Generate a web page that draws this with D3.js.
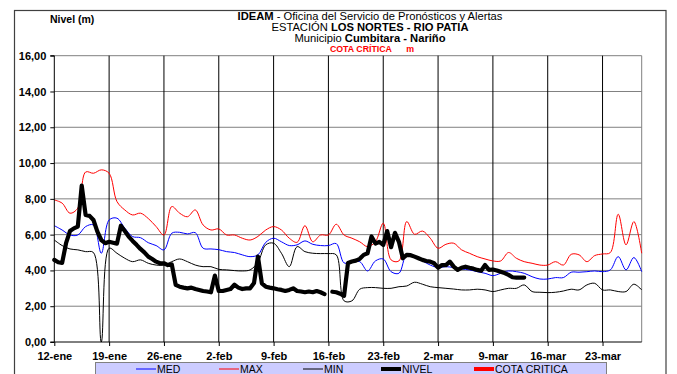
<!DOCTYPE html>
<html>
<head>
<meta charset="utf-8">
<script src="https://cdn.jsdelivr.net/npm/d3@7"></script>
<style>
  body { margin: 0; background: #fff; }
  svg { display: block; }
  text { font-family: "Liberation Sans", Arial, sans-serif; }
</style>
</head>
<body>
<svg id="chart" width="677" height="374"></svg>
<script>
// Daily series, one value per day starting 12-ene
const MED = [6.5, 6.26, 5.98, 5.98, 6.45, 6.54, 4.96, 6.82, 6.92, 6.36, 5.89, 5.83, 5.55, 5.39, 5.15, 6.08, 6.13, 6.04, 6.11, 5.24,
  5.2, 5.16, 5.05, 5.0, 4.87, 4.77, 4.87, 5.57, 5.8, 5.6, 5.39, 5.43, 5.65, 5.46, 5.39, 5.39, 5.5, 4.42, 4.46, 4.49,
  3.97, 4.53, 4.64, 3.93, 3.84, 4.9, 4.77, 4.53, 4.3, 4.16, 4.21, 4.16, 4.08, 4.03, 3.93, 3.84, 3.71, 3.84, 3.97, 3.93,
  3.84, 3.65, 3.52, 3.52, 3.6, 3.6, 3.9, 3.9, 3.93, 3.97, 3.93, 4.03, 4.77, 4.03, 4.72, 3.93];
const MAX = [7.94, 7.76, 7.2, 7.48, 9.5, 9.43, 9.62, 9.43, 7.85, 7.38, 7.1, 7.2, 6.9, 6.45, 5.98, 7.57, 7.2, 7.0, 7.38, 6.54,
  6.26, 6.32, 5.98, 5.98, 5.8, 5.7, 5.9, 6.26, 6.45, 6.26, 5.8, 5.57, 6.5, 5.6, 5.98, 5.98, 6.58, 5.98, 5.8, 5.6,
  5.33, 5.6, 6.64, 4.59, 4.53, 6.73, 6.02, 6.2, 5.8, 5.24, 5.46, 5.52, 5.15, 4.96, 4.77, 4.64, 4.53, 4.53, 5.0, 4.68,
  4.49, 4.4, 4.3, 4.3, 4.49, 4.3, 4.9, 4.87, 4.49, 4.83, 4.92, 5.0, 7.14, 5.43, 6.73, 4.96];
const MIN = [5.7, 5.39, 5.2, 5.15, 5.05, 5.0, 0, 5.24, 4.96, 4.68, 4.49, 4.59, 4.4, 4.3, 4.3, 4.49, 4.64, 4.49, 4.3, 4.21,
  4.21, 4.06, 4.03, 3.99, 3.97, 4.03, 4.46, 5.43, 5.52, 4.96, 4.21, 5.33, 5.05, 4.96, 4.94, 4.94, 4.87, 2.3, 2.3, 2.95,
  3.04, 3.04, 3.0, 3.0, 3.09, 3.13, 3.34, 3.23, 3.09, 3.04, 3.0, 2.96, 2.91, 2.91, 2.95, 2.91, 2.82, 2.91, 3.0, 3.0,
  3.19, 2.82, 2.78, 2.76, 2.78, 2.85, 2.95, 2.91, 3.19, 3.28, 2.91, 2.91, 2.82, 2.82, 3.23, 2.91];

// Observed level, two readings per day (null = no reading)
const NIVEL = [4.59, 4.46, 4.42, 5.52, 6.2, 6.35, 6.45, 8.74, 7.1, 7.05, 6.82, 6.17, 5.7, 5.52, 5.6, 5.55, 5.5, 6.5, 6.2, 5.89,
  5.65, 5.43, 5.2, 5.01, 4.77, 4.64, 4.49, 4.4, 4.4, 4.3, 4.34, 3.19, 3.09, 3.04, 3.0, 3.04, 2.96, 2.91, 2.85, 2.82,
  2.78, 3.71, 2.85, 2.85, 2.91, 2.96, 3.2, 3.04, 2.96, 3.0, 3.0, 3.3, 4.77, 3.28, 3.09, 3.04, 3.0, 2.95, 2.91, 2.85,
  2.91, 3.0, 2.85, 2.82, 2.78, 2.82, 2.78, 2.85, 2.78, 2.68, null, 2.81, 2.78, 2.7, 2.58, 4.42, 4.5, 4.55, 4.65, 4.87,
  4.96, 5.9, 5.5, 5.6, 5.43, 6.2, 5.3, 6.1, 5.6, 4.68, 4.87, 4.85, 4.77, 4.68, 4.59, 4.53, 4.49, 4.4, 4.15, 4.3,
  4.3, 4.49, 4.21, 4.03, 4.15, 4.21, 4.15, 4.1, 4.03, 3.98, 4.3, 4.03, 4.05, 4.0, 3.93, 3.85, 3.75, 3.62, 3.6, 3.6, 3.6];
const COTA_CRITICA = [];

const xTickLabels = ["12-ene", "19-ene", "26-ene", "2-feb", "9-feb", "16-feb", "23-feb", "2-mar", "9-mar", "16-mar", "23-mar"];
const yTicks = [0, 2, 4, 6, 8, 10, 12, 14, 16];
const titleLines = [
  [["IDEAM", true], [" - Oficina del Servicio de Pronósticos y Alertas", false]],
  [["ESTACIÓN ", false], ["LOS NORTES - RIO PATIA", true]],
  [["Municipio ", false], ["Cumbitara - Nariño", true]]
];
const legendItems = [
  { name: "MED", color: "#0000ff", width: 1 },
  { name: "MAX", color: "#ff0000", width: 1 },
  { name: "MIN", color: "#000000", width: 1 },
  { name: "NIVEL", color: "#000000", width: 4 },
  { name: "COTA CRITICA", color: "#ff0000", width: 4 }
];

const svg = d3.select("#chart");
const plot = { left: 54.3, right: 641.7, top: 55.7, bottom: 342 };

const x = d3.scaleLinear().domain([0, 75]).range([plot.left, plot.right]);
const y = d3.scaleLinear().domain([0, 16]).range([plot.bottom, plot.top]);

// outer frame
svg.append("rect")
  .attr("x", 14.5).attr("y", 10.5).attr("width", 651.5).attr("height", 400)
  .attr("fill", "none").attr("stroke", "#404040").attr("stroke-width", 1.2);

// horizontal gridlines
svg.append("g").selectAll("line").data(yTicks.filter(v => v > 0)).join("line")
  .attr("x1", plot.left).attr("x2", plot.right)
  .attr("y1", d => y(d)).attr("y2", d => y(d))
  .attr("stroke", "#808080").attr("stroke-width", 1);

// weekly vertical lines
const weekDays = xTickLabels.map((_, i) => i * 7);
svg.append("g").selectAll("line").data(weekDays.filter(d => d > 0)).join("line")
  .attr("x1", d => x(d)).attr("x2", d => x(d))
  .attr("y1", plot.top).attr("y2", plot.bottom)
  .attr("stroke", "#000").attr("stroke-width", 1);

// right edge of plot area
svg.append("line")
  .attr("x1", plot.right).attr("x2", plot.right)
  .attr("y1", plot.top).attr("y2", plot.bottom)
  .attr("stroke", "#808080").attr("stroke-width", 1);

// series
const smooth = d3.line().x((d, i) => x(i)).y(d => y(d)).curve(d3.curveCatmullRom.alpha(0.5));
[[MED, "#0000ff"], [MAX, "#ff0000"], [MIN, "#000000"]].forEach(([data, color]) => {
  svg.append("path").datum(data)
    .attr("d", smooth).attr("fill", "none")
    .attr("stroke", color).attr("stroke-width", 1);
});

const nivelLine = d3.line()
  .defined(d => d !== null)
  .x((d, i) => x(i / 2)).y(d => y(d));
svg.append("path").datum(NIVEL)
  .attr("d", nivelLine).attr("fill", "none")
  .attr("stroke", "#000").attr("stroke-width", 4.2)
  .attr("stroke-linejoin", "round").attr("stroke-linecap", "round");

// y axis
const yAxis = d3.axisLeft(y).tickValues(yTicks).tickSize(4).tickPadding(4)
  .tickFormat(d => d.toFixed(2).replace(".", ","));
const gy = svg.append("g").attr("transform", `translate(${plot.left},0)`).call(yAxis);
gy.select(".domain").attr("stroke", "#000").attr("d", `M-4,${plot.top}H0V${plot.bottom}H-4`);
gy.selectAll("text").attr("font-size", 11).attr("font-weight", "bold")
  .attr("font-family", '"Liberation Sans", Arial, sans-serif').attr("fill", "#000");

// x axis
const xAxis = d3.axisBottom(x).tickValues(weekDays).tickSize(4).tickPadding(6)
  .tickFormat((d, i) => xTickLabels[i]);
const gx = svg.append("g").attr("transform", `translate(0,${plot.bottom})`).call(xAxis);
gx.select(".domain").attr("stroke", "#000").attr("d", `M${plot.left},0H${plot.right}`);
gx.selectAll("text").attr("font-size", 11).attr("font-weight", "bold")
  .attr("font-family", '"Liberation Sans", Arial, sans-serif').attr("fill", "#000");

// y axis title
svg.append("text").attr("x", 50).attr("y", 23)
  .attr("font-size", 10.5).attr("font-weight", "bold").text("Nivel (m)");

// title block
const cx = 370;
titleLines.forEach((parts, li) => {
  const t = svg.append("text").attr("x", cx).attr("y", 20 + li * 11)
    .attr("text-anchor", "middle").attr("font-size", 11.2);
  parts.forEach(([s, bold]) => {
    t.append("tspan").attr("font-weight", bold ? "bold" : "normal").text(s);
  });
});
const cota = svg.append("text").attr("x", 372).attr("y", 52)
  .attr("text-anchor", "middle").attr("font-size", 8.8).attr("font-weight", "bold")
  .attr("fill", "#ff0000").attr("xml:space", "preserve");
cota.text("COTA CRÍTICA      m");

// legend
const lg = svg.append("g");
lg.append("rect").attr("x", 95.5).attr("y", 362.5).attr("width", 511).attr("height", 30)
  .attr("fill", "#ccccff").attr("stroke", "#808080").attr("stroke-width", 1);
const legendX = [136, 219, 303, 381, 474];
legendItems.forEach((it, i) => {
  const lx = legendX[i];
  lg.append("line").attr("x1", lx).attr("x2", lx + 20).attr("y1", 369).attr("y2", 369)
    .attr("stroke", it.color).attr("stroke-width", it.width);
  lg.append("text").attr("x", lx + 21).attr("y", 373)
    .attr("font-size", 10.5).text(it.name);
});
</script>
</body>
</html>
